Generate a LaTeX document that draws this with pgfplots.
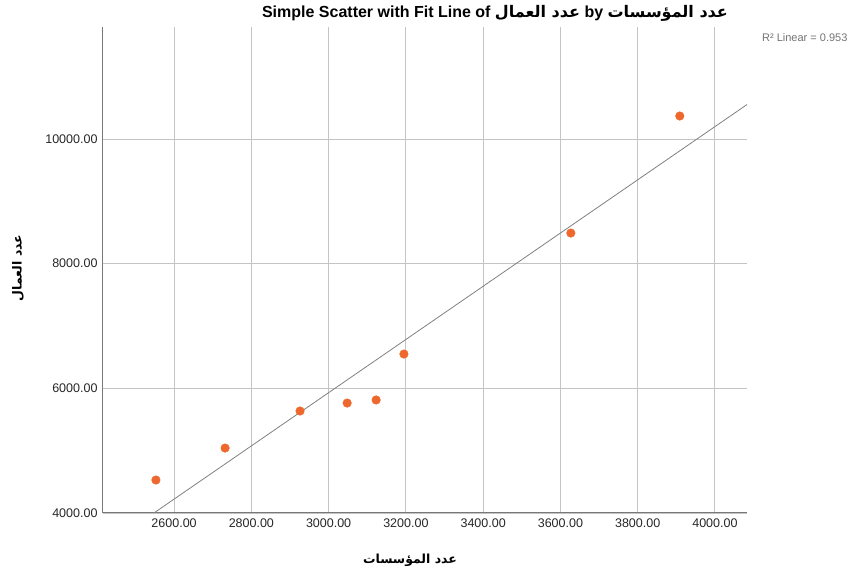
\documentclass[border=0pt]{standalone}
\usepackage{fontspec}
\setmainfont{Liberation Sans}
\newfontfamily\arabicfont[Script=Arabic]{DejaVu Sans}
\TeXXeTstate=1
\usepackage{pgfplots}
\pgfplotsset{compat=1.18}
\definecolor{ptorange}{RGB}{238,104,46}
\definecolor{gridgray}{RGB}{196,196,196}
\definecolor{axisgray}{RGB}{120,120,120}
\definecolor{fitgray}{RGB}{128,128,128}
\begin{document}
\begin{tikzpicture}[x=1pt,y=1pt]
\begin{axis}[
  at={(103pt,62pt)}, anchor=south west,
  width=644pt, height=486pt, scale only axis,
  xmin=2416, xmax=4083, ymin=4000, ymax=11796,
  xtick={2600,2800,3000,3200,3400,3600,3800,4000},
  ytick={4000,6000,8000,10000},
  scaled ticks=false,
  axis x line*=bottom, axis y line*=left,
  axis line style={-, axisgray, line width=1pt},
  major tick length=0pt,
  grid=major,
  major grid style={gridgray, line width=0.9pt},
  tick label style={font=\fontsize{12.5}{14}\selectfont, text=black!85},
  /pgf/number format/assume math mode=true,
  /pgf/number format/.cd, fixed, fixed zerofill, precision=2, 1000 sep={},
  /pgfplots/.cd,
  xticklabel style={yshift=-2pt},
  yticklabel style={xshift=-2pt},
  clip=true,
]
\addplot[fitgray, line width=0.8pt] coordinates {(2400,3369) (4083,10552)};
\addplot[only marks, mark=*, mark size=4.3pt, mark options={fill=ptorange, draw=ptorange}]
  coordinates {
  (2553,4529) (2732,5042) (2926,5636) (3048,5764)
  (3123,5813) (3195,6550) (3627,8491) (3909,10368)
  };
\end{axis}
\node[font=\fontsize{16}{18}\selectfont\bfseries, anchor=center] at (495,562)
  {Simple Scatter with Fit Line of {\arabicfont\bfseries\beginR عدد العمال\endR} by {\arabicfont\bfseries\beginR عدد المؤسسات\endR}};
\node[font=\fontsize{11}{13}\selectfont, text=black!55, anchor=east] at (851,537) {R² Linear = 0.953};
\node[font=\arabicfont\bfseries\fontsize{12.5}{15}\selectfont, anchor=center] at (410,15) {\beginR عدد المؤسسات\endR};
\node[font=\arabicfont\bfseries\fontsize{12.5}{15}\selectfont, anchor=center, rotate=90] at (18,307) {\beginR عدد العمال\endR};
\pgfresetboundingbox
\useasboundingbox (0,0) rectangle (854,575);
\end{tikzpicture}
\end{document}
